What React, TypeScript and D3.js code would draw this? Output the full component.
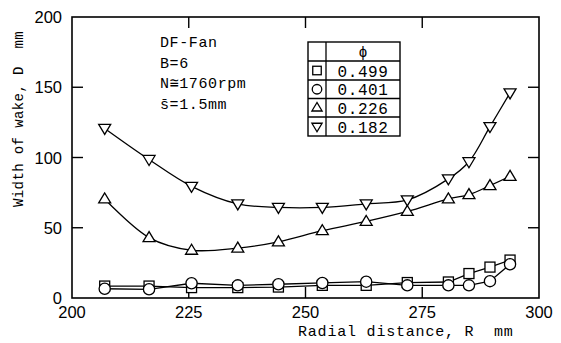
import * as d3 from 'd3'

const radius = [207, 216.5, 225.6, 235.5, 244.2, 253.6, 263, 271.8, 280.6, 285, 289.5, 293.8]
const phi499 = [8.5, 8.5, 7.4, 7.4, 7.8, 9, 9, 11, 11.4, 17.4, 22, 27]
const phi401 = [6.6, 6.2, 10.5, 9, 9.8, 10.7, 11.6, 9, 9, 9, 12, 24]
const phi226 = [70.5, 43, 34, 35.5, 40, 47.9, 54.5, 61.6, 70.5, 73.6, 80, 86.6]
const phi182 = [120.7, 98.6, 79.5, 67, 64.5, 64.5, 67, 69.8, 84.8, 97, 122, 146]

const xTicks = [200, 225, 250, 275, 300]
const yTicks = [0, 50, 100, 150, 200]
const legendLabels = ['0.499', '0.401', '0.226', '0.182']
const notes = ['DF-Fan', 'B=6', 'N\u22451760rpm', 's\u0304=1.5mm']

const W = 561
const H = 343
const margin = { top: 17, right: 22, bottom: 45, left: 72 }
const mono = '"Liberation Mono", "DejaVu Sans Mono", monospace'
const sans = '"Liberation Sans", Arial, sans-serif'

const x = d3.scaleLinear().domain([200, 300]).range([margin.left, W - margin.right])
const y = d3.scaleLinear().domain([0, 200]).range([H - margin.bottom, margin.top])

type Shape = 'square' | 'circle' | 'up' | 'down'

const Marker = ({ cx, cy, shape, s = 1 }: { cx: number; cy: number; shape: Shape; s?: number }) => {
  const st = { fill: '#fff', stroke: '#000', strokeWidth: 1.3 }
  if (shape === 'circle') return <circle cx={cx} cy={cy} r={5.6 * s} {...st} />
  if (shape === 'square') return <rect x={cx - 5 * s} y={cy - 5 * s} width={10 * s} height={10 * s} {...st} />
  const h = 5 * s
  const w = 6 * s
  const pts = shape === 'up'
    ? `${cx},${cy - h - 1} ${cx - w},${cy + h - 1} ${cx + w},${cy + h - 1}`
    : `${cx},${cy + h + 1} ${cx - w},${cy - h + 1} ${cx + w},${cy - h + 1}`
  return <polygon points={pts} {...st} />
}

const series: { values: number[]; shape: Shape; curve: d3.CurveFactory }[] = [
  { values: phi499, shape: 'square', curve: d3.curveLinear },
  { values: phi401, shape: 'circle', curve: d3.curveLinear },
  { values: phi226, shape: 'up', curve: d3.curveCatmullRom.alpha(0.5) },
  { values: phi182, shape: 'down', curve: d3.curveCatmullRom.alpha(0.5) }
]

export default function App() {
  const x0 = margin.left
  const x1 = W - margin.right
  const y0 = H - margin.bottom
  const y1 = margin.top
  const tickLen = 11

  // legend table
  const lx0 = 308, lxDiv = 326, lx1 = 400
  const rowTops = [42, 61, 80, 98.5, 117, 136]

  return (
    <svg width={W} height={H} style={{ position: 'absolute', left: 0, top: 0, background: '#fff' }}>
      <rect x={0} y={0} width={W} height={H} fill="#fff" />
      {/* frame */}
      <rect x={x0} y={y1} width={x1 - x0} height={y0 - y1} fill="none" stroke="#000" strokeWidth={1.6} />
      {xTicks.slice(1, -1).map(t => (
        <g key={'xt' + t}>
          <line x1={x(t)} x2={x(t)} y1={y0} y2={y0 - tickLen} stroke="#000" strokeWidth={1.4} />
          <line x1={x(t)} x2={x(t)} y1={y1} y2={y1 + tickLen} stroke="#000" strokeWidth={1.4} />
        </g>
      ))}
      {yTicks.slice(1, -1).map(t => (
        <g key={'yt' + t}>
          <line x1={x0} x2={x0 + tickLen} y1={y(t)} y2={y(t)} stroke="#000" strokeWidth={1.4} />
          <line x1={x1} x2={x1 - tickLen} y1={y(t)} y2={y(t)} stroke="#000" strokeWidth={1.4} />
        </g>
      ))}
      {xTicks.map(t => (
        <text key={'xl' + t} x={x(t)} y={y0 + 20} textAnchor="middle" fontFamily={sans} fontSize={16.5}>{t}</text>
      ))}
      {yTicks.map(t => (
        <text key={'yl' + t} x={x0 - 10} y={y(t) + 6} textAnchor="end" fontFamily={sans} fontSize={16.5}>{t}</text>
      ))}
      <text x={298} y={336} fontFamily={mono} fontSize={15} letterSpacing={0.8} style={{ whiteSpace: 'pre' }}>Radial distance, R  mm</text>
      <text transform="translate(23,119) rotate(-90)" textAnchor="middle" fontFamily={mono} fontSize={14} letterSpacing={0.4} style={{ whiteSpace: 'pre' }}>Width of wake, D  mm</text>

      {notes.map((n, i) => (
        <text key={n} x={160} y={47 + i * 20.5} fontFamily={mono} fontSize={15} letterSpacing={0.6}>{n}</text>
      ))}

      {/* data */}
      {series.map((s, si) => {
        const line = d3.line<number>().x((_, i) => x(radius[i])).y(d => y(d)).curve(s.curve)
        return (
          <g key={'s' + si}>
            <path d={line(s.values) ?? ''} fill="none" stroke="#000" strokeWidth={1.3} />
            {s.values.map((v, i) => (
              <Marker key={i} cx={x(radius[i])} cy={y(v)} shape={s.shape} />
            ))}
          </g>
        )
      })}

      {/* legend */}
      <g>
        <rect x={lx0} y={rowTops[0]} width={lx1 - lx0} height={rowTops[5] - rowTops[0]} fill="#fff" stroke="#000" strokeWidth={1.4} />
        <line x1={lxDiv} x2={lxDiv} y1={rowTops[0]} y2={rowTops[5]} stroke="#000" strokeWidth={1.3} />
        {rowTops.slice(1, -1).map(r => (
          <line key={'r' + r} x1={lx0} x2={lx1} y1={r} y2={r} stroke="#000" strokeWidth={1.3} />
        ))}
        <text x={(lxDiv + lx1) / 2} y={57} textAnchor="middle" fontFamily={mono} fontSize={15}>{'\u03d5'}</text>
        {legendLabels.map((l, i) => (
          <g key={l}>
            <Marker cx={(lx0 + lxDiv) / 2} cy={(rowTops[i + 1] + rowTops[i + 2]) / 2} shape={series[i].shape} s={0.85} />
            <text x={(lxDiv + lx1) / 2} y={(rowTops[i + 1] + rowTops[i + 2]) / 2 + 6} textAnchor="middle" fontFamily={mono} fontSize={16} letterSpacing={0.6}>{l}</text>
          </g>
        ))}
      </g>
    </svg>
  )
}
